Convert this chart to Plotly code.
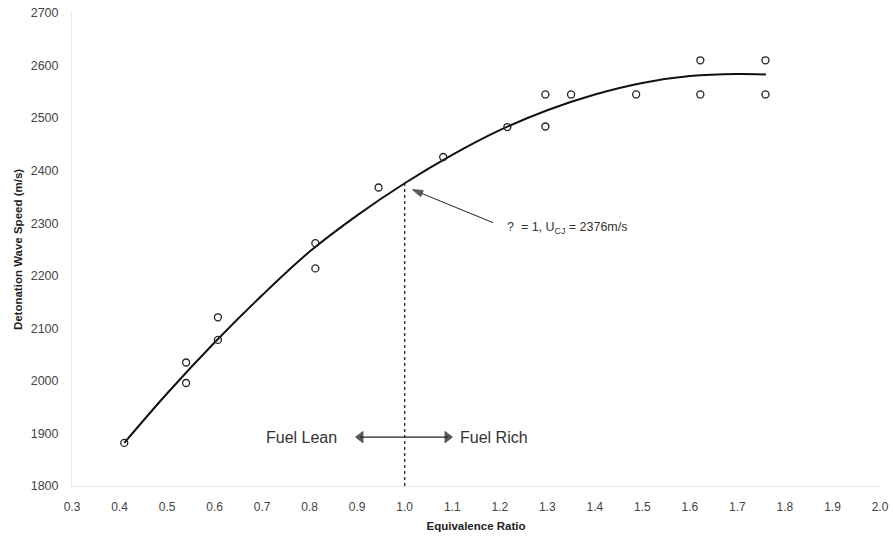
import plotly.graph_objects as go

# Measured data points (equivalence ratio, detonation wave speed m/s)
phi = [0.41, 0.54, 0.54, 0.607, 0.607, 0.812, 0.812, 0.945, 1.081, 1.216,
       1.296, 1.296, 1.35, 1.487, 1.622, 1.622, 1.759, 1.759]
speed = [1882, 2035, 1996, 2121, 2078, 2262, 2214, 2368, 2426, 2483,
         2545, 2484, 2545, 2545, 2610, 2545, 2610, 2545]

# Trend curve
curve_x = [0.41, 0.5, 0.6, 0.7, 0.8, 0.9, 1.0, 1.1, 1.2, 1.3, 1.4, 1.5, 1.6, 1.7, 1.76]
curve_y = [1882, 1976, 2073, 2163, 2246, 2315, 2376, 2430, 2477, 2515, 2545, 2567, 2580, 2584, 2583]

x_ticks = [0.3, 0.4, 0.5, 0.6, 0.7, 0.8, 0.9, 1.0, 1.1, 1.2, 1.3, 1.4, 1.5, 1.6, 1.7, 1.8, 1.9, 2.0]
y_ticks = [1800, 1900, 2000, 2100, 2200, 2300, 2400, 2500, 2600, 2700]

phi_cj = 1.0
u_cj = 2376

# annotation anchor points (data coordinates)
cj_arrow_x = [1.186, 1.016]
cj_arrow_y = [2301, 2364]
lean_rich_x = [0.907, 1.0, 1.090]
lean_rich_y = [1893, 1893, 1893]

FONT = "Liberation Sans, Arial, sans-serif"

fig = go.Figure()
fig.add_trace(go.Scatter(x=curve_x, y=curve_y, mode="lines", line=dict(color="#111", width=2, shape="spline"),
                         hoverinfo="skip", showlegend=False))
fig.add_trace(go.Scatter(x=phi, y=speed, mode="markers",
                         marker=dict(symbol="circle-open", size=7, color="#222", line=dict(width=1.3, color="#222")),
                         showlegend=False))
# Vertical dashed line at phi = 1
fig.add_trace(go.Scatter(x=[phi_cj, phi_cj], y=[1800, u_cj], mode="lines",
                         line=dict(color="#111", width=1.2, dash="dot"), hoverinfo="skip", showlegend=False))

# CJ arrow
fig.add_trace(go.Scatter(x=cj_arrow_x, y=cj_arrow_y, mode="lines+markers",
                         line=dict(color="#222", width=1),
                         marker=dict(symbol=["circle", "arrow"], size=[0, 11], angleref="previous", color="#111"),
                         hoverinfo="skip", showlegend=False))
fig.add_annotation(x=1.212, y=2291, xref="x", yref="y", xanchor="left", yanchor="middle",
                   text="?  = 1, U<sub>CJ</sub> = 2376m/s", showarrow=False,
                   font=dict(family=FONT, size=12.5, color="#333"))

# Fuel lean / rich double arrow
fig.add_trace(go.Scatter(x=lean_rich_x, y=lean_rich_y, mode="lines+markers",
                         line=dict(color="#222", width=1.2),
                         marker=dict(symbol=["triangle-left", "circle", "triangle-right"], size=[10, 0, 10], color="#111"),
                         hoverinfo="skip", showlegend=False))
fig.add_annotation(x=0.862, y=1893, xref="x", yref="y", xanchor="right", yanchor="middle",
                   text="Fuel Lean", showarrow=False, font=dict(family=FONT, size=16, color="#333"))
fig.add_annotation(x=1.113, y=1893, xref="x", yref="y", xanchor="left", yanchor="middle",
                   text="Fuel Rich", showarrow=False, font=dict(family=FONT, size=16, color="#333"))

fig.update_layout(
    width=893, height=536,
    margin=dict(l=72, r=13, t=13, b=50, autoexpand=False),
    paper_bgcolor="white", plot_bgcolor="white",
    font=dict(family=FONT, color="#333"),
    xaxis=dict(range=[0.3, 2.0], tickvals=x_ticks, ticktext=[f"{v:.1f}" for v in x_ticks],
               showgrid=False, zeroline=False, showline=True, linecolor="#e8e8e8", linewidth=1,
               ticks="outside", ticklen=10, tickcolor="rgba(0,0,0,0)", automargin=False,
               tickfont=dict(size=12, color="#444"),
               title=dict(text="<b>Equivalence Ratio</b>", font=dict(size=11.5, color="#222"), standoff=8)),
    yaxis=dict(range=[1800, 2700], tickvals=y_ticks,
               showgrid=False, zeroline=False, showline=True, linecolor="#e8e8e8", linewidth=1,
               ticks="outside", ticklen=10, tickcolor="rgba(0,0,0,0)", automargin=False,
               tickfont=dict(size=12.5, color="#444"),
               title=dict(text="<b>Detonation Wave Speed (m/s)</b>", font=dict(size=11.5, color="#222"), standoff=5)),
)

fig.write_html("out.html")
